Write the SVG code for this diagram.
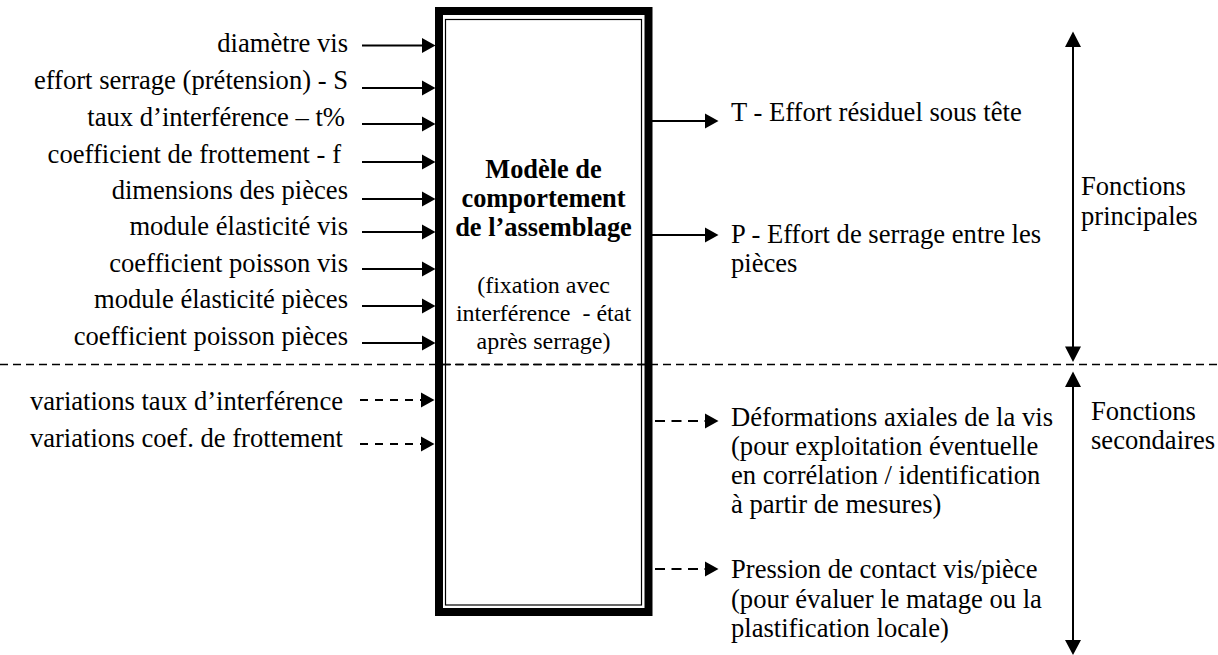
<svg xmlns="http://www.w3.org/2000/svg" width="1218" height="655" viewBox="0 0 1218 655">
<style>
text{font-family:'Liberation Serif','Times New Roman',serif;font-size:26.6px;fill:#000}
.l{text-anchor:end}
.c{text-anchor:middle}
.b{font-weight:bold;font-size:26.4px}
.s{font-size:24px}
.ln{stroke:#000;stroke-width:2;fill:none}
.dl{stroke:#000;stroke-width:2;fill:none;stroke-dasharray:8 7}
.dr{stroke:#000;stroke-width:2;fill:none;stroke-dasharray:10 6.5}
.sep{stroke:#000;stroke-width:1.5;fill:none;stroke-dasharray:8 5}
</style>
<defs>
<marker id="ah" markerUnits="userSpaceOnUse" markerWidth="14" markerHeight="16" viewBox="0 0 14 16" refX="0" refY="8" orient="auto">
<path d="M0,0.5 L13.5,8 L0,15.5 Z" fill="#000"/>
</marker>
</defs>
<rect width="1218" height="655" fill="#fff"/>
<g id="separator">
<line class="sep" x1="0" y1="364.5" x2="1218" y2="364.5"/>
</g>
<g id="model">
<rect x="439" y="11" width="209.5" height="601" fill="none" stroke="#000" stroke-width="8"/>
<rect x="445.5" y="19.5" width="196" height="585.5" fill="none" stroke="#000" stroke-width="1.2"/>
<line class="sep" x1="443" y1="364.5" x2="645" y2="364.5"/>
<text class="c b" x="543.5" y="178">Modèle de</text>
<text class="c b" x="543.5" y="207">comportement</text>
<text class="c b" x="543.5" y="236">de l’assemblage</text>
<text class="c s" x="543.5" y="293">(fixation avec</text>
<text class="c s" x="543.5" y="321" xml:space="preserve">interférence  - état</text>
<text class="c s" x="543.5" y="349">après serrage)</text>
</g>
<g id="inputs">
<text class="l" x="348" y="52">diamètre vis</text>
<text class="l" x="348" y="89">effort serrage (prétension) - S</text>
<text class="l" x="345" y="126">taux d’interférence – t%</text>
<text class="l" x="341" y="163">coefficient de frottement - f</text>
<text class="l" x="348" y="199">dimensions des pièces</text>
<text class="l" x="348" y="235">module élasticité vis</text>
<text class="l" x="348" y="272">coefficient poisson vis</text>
<text class="l" x="348" y="308">module élasticité pièces</text>
<text class="l" x="348" y="345">coefficient poisson pièces</text>
<text class="l" x="343" y="410">variations taux d’interférence</text>
<text class="l" x="343" y="447">variations coef. de frottement</text>
</g>
<g id="outputs">
<text x="731" y="121">T - Effort résiduel sous tête</text>
<text x="731" y="243">P - Effort de serrage entre les</text>
<text x="731" y="272">pièces</text>
<text x="731" y="426">Déformations axiales de la vis</text>
<text x="731" y="455">(pour exploitation éventuelle</text>
<text x="731" y="484">en corrélation / identification</text>
<text x="731" y="513">à partir de mesures)</text>
<text x="731" y="578">Pression de contact vis/pièce</text>
<text x="731" y="608">(pour évaluer le matage ou la</text>
<text x="731" y="637">plastification locale)</text>
</g>
<g id="functions">
<text x="1081" y="195">Fonctions</text>
<text x="1081" y="225">principales</text>
<text x="1091" y="420">Fonctions</text>
<text x="1091" y="449">secondaires</text>
</g>
<g id="connectors">
<line class="ln" x1="362" y1="45.5" x2="422" y2="45.5" marker-end="url(#ah)"/>
<line class="ln" x1="362" y1="88" x2="422" y2="88" marker-end="url(#ah)"/>
<line class="ln" x1="362" y1="124" x2="422" y2="124" marker-end="url(#ah)"/>
<line class="ln" x1="362" y1="162" x2="422" y2="162" marker-end="url(#ah)"/>
<line class="ln" x1="362" y1="199" x2="422" y2="199" marker-end="url(#ah)"/>
<line class="ln" x1="362" y1="232" x2="422" y2="232" marker-end="url(#ah)"/>
<line class="ln" x1="362" y1="269" x2="422" y2="269" marker-end="url(#ah)"/>
<line class="ln" x1="362" y1="306" x2="422" y2="306" marker-end="url(#ah)"/>
<line class="ln" x1="362" y1="343" x2="422" y2="343" marker-end="url(#ah)"/>
<line class="dl" x1="360" y1="400" x2="421" y2="400" marker-end="url(#ah)"/>
<line class="dl" x1="360" y1="444" x2="421" y2="444" marker-end="url(#ah)"/>
<line class="ln" x1="645" y1="121" x2="705" y2="121" marker-end="url(#ah)"/>
<line class="ln" x1="652" y1="235" x2="705" y2="235" marker-end="url(#ah)"/>
<line class="dr" x1="655" y1="421" x2="705" y2="421" marker-end="url(#ah)"/>
<line class="dr" x1="655" y1="569" x2="705" y2="569" marker-end="url(#ah)"/>
<line class="ln" x1="1073" y1="45" x2="1073" y2="348"/>
<path d="M1073,31.5 L1081,47 L1065,47 Z M1073,362 L1081,346.5 L1065,346.5 Z" fill="#000"/>
<line class="ln" x1="1073" y1="385" x2="1073" y2="642"/>
<path d="M1073,371.5 L1081,387 L1065,387 Z M1073,655 L1081,640 L1065,640 Z" fill="#000"/>
</g>
</svg>
